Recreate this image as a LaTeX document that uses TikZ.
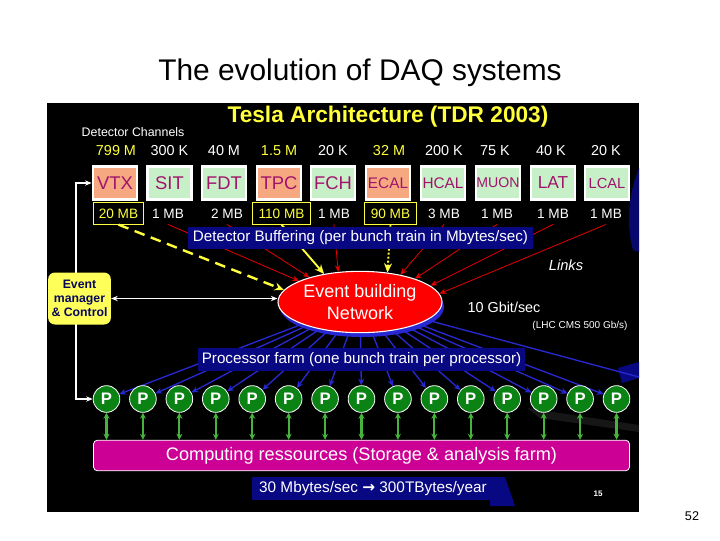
\documentclass[tikz,border=0pt]{standalone}
\usepackage{fontspec}
\setmainfont{Liberation Sans}
\newfontfamily\arrowfont{DejaVu Sans}
\usetikzlibrary{arrows.meta,shapes.geometric}
\pgfdeclarelayer{bg}\pgfdeclarelayer{links}
\pgfsetlayers{bg,links,main}
\definecolor{navy}{RGB}{8,8,130}
\definecolor{salmon}{RGB}{246,168,128}
\definecolor{pale}{RGB}{200,240,200}
\definecolor{detm}{RGB}{160,20,110}
\definecolor{ylw}{RGB}{255,255,60}
\definecolor{pgreen}{RGB}{10,130,20}
\definecolor{agreen}{RGB}{70,180,60}
\definecolor{magen}{RGB}{205,0,150}
\definecolor{fanblue}{RGB}{40,40,210}
\definecolor{emyel}{RGB}{255,255,90}
\begin{document}
\begin{tikzpicture}[x=0.75pt,y=-0.75pt,
  det/.style={draw=white,line width=2pt,minimum width=33pt,minimum height=25pt,inner sep=0pt,text=detm,font=\fontsize{13.8}{16}\selectfont},
  orng/.style={det,fill=salmon},
  grn/.style={det,fill=pale},
  chan/.style={text=white,font=\fontsize{10.8}{12}\selectfont,inner sep=1pt},
  mb/.style={text=white,font=\fontsize{10.2}{12}\selectfont,inner sep=1pt,minimum height=16pt},
  mbx/.style={mb,text=ylw,draw=ylw,line width=0.7pt,inner sep=1pt},
  navybox/.style={fill=navy,text=white,inner sep=0pt},
  redarr/.style={draw=red!90!black,line width=0.6pt,-{Stealth[length=5pt,width=4pt]}},
  yarr/.style={draw=ylw,line width=1.8pt,-{Stealth[length=7pt,width=6pt]}},
  fan/.style={draw=fanblue,line width=1pt,-{Stealth[length=5pt,width=4.5pt]}},
  garr/.style={draw=agreen,line width=1.6pt,{Stealth[length=4.5pt,width=4.5pt]}-{Stealth[length=4.5pt,width=4.5pt]}},
  wline/.style={draw=white,line width=1.3pt},
  proc/.style={circle,fill=pgreen,draw=white,line width=0.6pt,minimum size=20pt,inner sep=0pt,text=white,font=\fontsize{12.5}{14}\selectfont\bfseries}]
\useasboundingbox (0,0) rectangle (720,540);
\begin{pgfonlayer}{bg}
\fill[white] (0,0) rectangle (720,540);
\fill[black] (47,103) rectangle (639,512);
\fill[navy!85!black] (639,168) .. controls (628,195) and (626,225) .. (633,250) -- (639,252) -- cycle;
\fill[navy] (618,368) -- (639,362) -- (639,378) -- (622,383) -- cycle;
\fill[black!75!white,opacity=0.35] (527,408) -- (639,425) -- (639,432) -- (540,418) -- cycle;
\fill[navy] (490,477) -- (505,477) -- (515,506) -- (490,506) -- cycle;
\end{pgfonlayer}
\node (title) at (360,73) {\fontsize{22.4}{24}\selectfont The evolution of DAQ systems};
\node (pg) at (692,516) {\fontsize{9.5}{11}\selectfont 52};
\node[text=ylw,font=\fontsize{17}{19}\selectfont\bfseries] (tesla) at (388,117) {Tesla Architecture (TDR 2003)};
\node[text=white,font=\fontsize{9.3}{10}\selectfont,anchor=west] (dc) at (77,132) {Detector Channels};
% detector boxes
\node[orng] (vtx) at (115,183) {VTX};
\node[grn] (sit) at (169.5,183) {SIT};
\node[grn] (fdt) at (224,183) {FDT};
\node[orng] (tpc) at (279,183) {TPC};
\node[grn] (fch) at (333,183) {FCH};
\node[orng,font=\fontsize{11.5}{14}\selectfont] (ecal) at (388,183) {ECAL};
\node[grn,font=\fontsize{11.5}{14}\selectfont] (hcal) at (443,183) {HCAL};
\node[grn,font=\fontsize{10.6}{13}\selectfont] (muon) at (498,183) {MUON};
\node[grn,font=\fontsize{13}{15}\selectfont] (lat) at (553,183) {LAT};
\node[grn,font=\fontsize{11}{13}\selectfont] (lcal) at (607,183) {LCAL};
% channels
\node[chan,text=ylw] (c1) at (116,151) {799 M};
\node[chan] (c2) at (169.5,151) {300 K};
\node[chan] (c3) at (224,151) {40 M};
\node[chan,text=ylw] (c4) at (279,151) {1.5 M};
\node[chan] (c5) at (333,151) {20 K};
\node[chan,text=ylw] (c6) at (389,151) {32 M};
\node[chan] (c7) at (444,151) {200 K};
\node[chan] (c8) at (495,151) {75 K};
\node[chan] (c9) at (551,151) {40 K};
\node[chan] (c10) at (606,151) {20 K};
% MB
\node[mbx,minimum width=38pt] (m1) at (118.5,213.5) {20 MB};
\node[mb] (m2) at (168,213.5) {1 MB};
\node[mb] (m3) at (227,213.5) {2 MB};
\node[mbx,minimum width=44pt] (m4) at (281.5,213.5) {110 MB};
\node[mb] (m5) at (334,213.5) {1 MB};
\node[mbx,minimum width=39pt] (m6) at (390.5,213.5) {90 MB};
\node[mb] (m7) at (444,213.5) {3 MB};
\node[mb] (m8) at (497,213.5) {1 MB};
\node[mb] (m9) at (553,213.5) {1 MB};
\node[mb] (m10) at (606,213.5) {1 MB};
\node[navybox,minimum width=259pt,minimum height=16.5pt,font=\fontsize{11.4}{12}\selectfont] (buf) at (360.5,238) {Detector Buffering (per bunch train in Mbytes/sec)};
\node[text=white,font=\fontsize{11}{12}\selectfont\itshape] (links) at (566,265) {Links};
\node[ellipse,fill=red,draw=white,line width=0.8pt,minimum width=123pt,minimum height=46pt,inner sep=0pt,text=white,align=center,font=\fontsize{13.5}{16}\selectfont] (net) at (360,302) {Event building\\Network};
\node[text=white,font=\fontsize{10.8}{12}\selectfont] (gb) at (504,307) {10 Gbit/sec};
\node[text=white,font=\fontsize{7.5}{9}\selectfont] (lhc) at (580,326) {(LHC CMS 500 Gb/s)};
\node[fill=emyel,rounded corners=5pt,minimum width=47pt,minimum height=39pt,inner sep=1pt,align=center,text=navy!70!black,font=\fontsize{9.2}{10.5}\selectfont\bfseries] (em) at (79.5,298.5) {Event\\manager\\\& Control};
\node[navybox,minimum width=245pt,minimum height=17pt,font=\fontsize{11.4}{12}\selectfont] (farm) at (361.5,359.5) {Processor farm (one bunch train per processor)};
\foreach \i in {0,...,14}{
  \node[proc] (p\i) at ({106.5+36.43*\i},399) {P};
}
\node[fill=magen,draw=white,line width=0.6pt,rounded corners=3pt,minimum width=402pt,minimum height=23pt,inner sep=0pt,text=white,font=\fontsize{13.6}{15}\selectfont] (comp) at (361.5,455.5) {Computing ressources (Storage \& analysis farm)};
\node[navybox,minimum width=181pt,minimum height=17pt,font=\fontsize{11.5}{12}\selectfont] (rate) at (373,488.5) {30 Mbytes/sec {\arrowfont\bfseries →} 300TBytes/year};
\node[text=white,font=\fontsize{6}{7}\selectfont\bfseries] (fifteen) at (598,494) {15};
\coordinate (e1) at (639,377);
\begin{pgfonlayer}{links}
\fill[fanblue] (362,307) ellipse [x radius=82,y radius=30];
\foreach \i in {0,...,14}{ \draw[fan] (net) -- (p\i); }
\draw[draw=fanblue,line width=1pt] (net) -- (e1);
\foreach \i in {0,...,14}{ \draw[garr] (p\i.south) -- (p\i.south |- comp.north); }
\draw[yarr,dash pattern=on 8pt off 5pt] (m1.south) -- (net.171);
\draw[redarr] (m2.south) -- (net.161);
\draw[redarr] (m3.south) -- (net.154);
\draw[yarr,line width=1.4pt] (m4.south) -- (net.142);
\draw[redarr] (m5.south) -- (net.126);
\draw[yarr,line width=1.4pt,dash pattern=on 1.5pt off 1.5pt] (m6.south) -- (net.47);
\draw[redarr] (m7.south) -- (net.34);
\draw[redarr] (m8.south) -- (net.23);
\draw[redarr] (m9.south) -- (net.13);
\draw[redarr] (m10.south) -- (net.6);
\draw[wline,-{Stealth[length=5pt,width=4pt]}] ([xshift=-2.6pt]em.center) |- (vtx.west);
\draw[wline,-{Stealth[length=5pt,width=4pt]}] ([xshift=-2.6pt]em.center) |- (p0.west);
\draw[wline,line width=0.9pt,{Stealth[length=5pt,width=4pt]}-{Stealth[length=5pt,width=4pt]}] (em.east) -- (em.east -| net.west);
\end{pgfonlayer}
\end{tikzpicture}
\end{document}
